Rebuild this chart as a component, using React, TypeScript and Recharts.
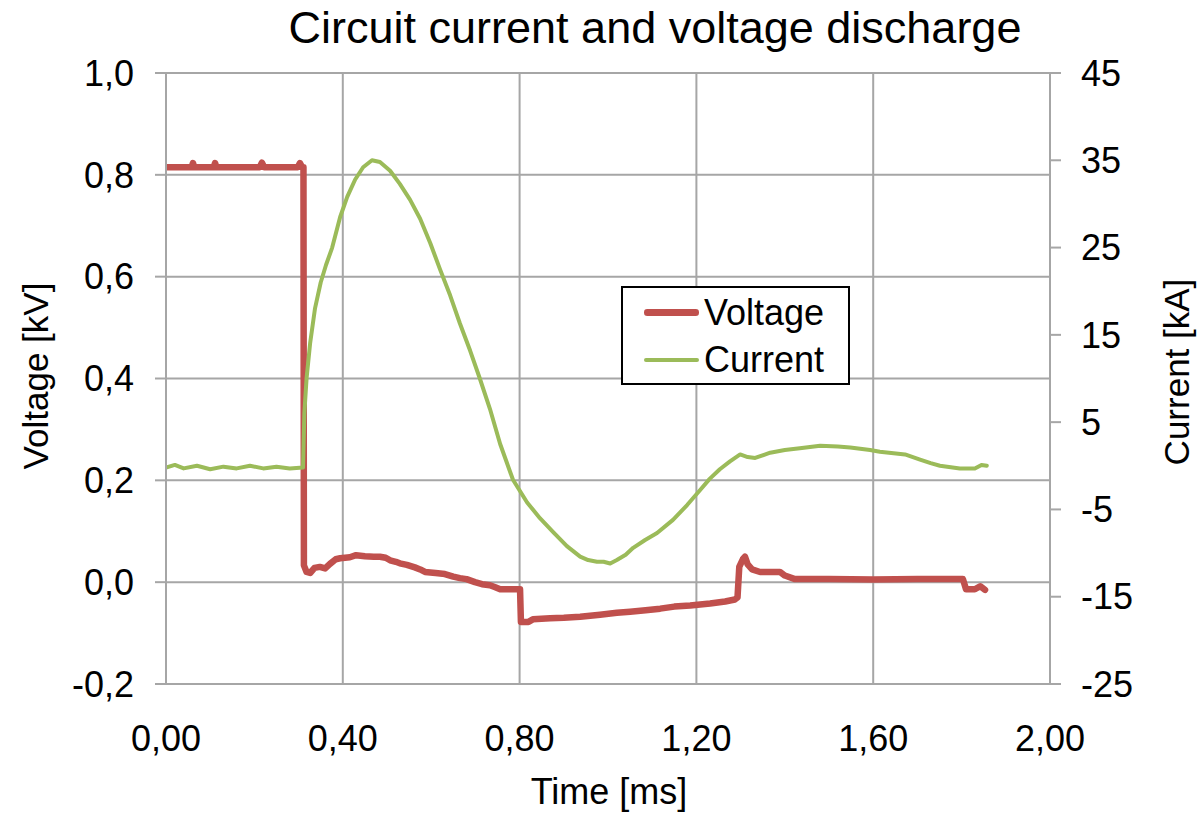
import { LineChart, Line, XAxis, YAxis, CartesianGrid, Legend, Label } from "recharts";

// voltage trace, time in ms, value in kV
const voltageTime = [
  0, 0.058, 0.061, 0.064, 0.108, 0.111, 0.114, 0.212, 0.217, 0.222, 0.298, 0.303, 0.308, 0.311,
  0.312, 0.318, 0.326, 0.336, 0.348, 0.36, 0.371, 0.384, 0.394, 0.416, 0.43, 0.45, 0.47, 0.484,
  0.497, 0.507, 0.52, 0.529, 0.545, 0.563, 0.575, 0.586, 0.61, 0.631, 0.65, 0.665, 0.68, 0.699,
  0.715, 0.733, 0.745, 0.756, 0.801, 0.803, 0.82, 0.83, 0.869, 0.9, 0.937, 0.982, 1.02, 1.05,
  1.085, 1.118, 1.15, 1.186, 1.231, 1.265, 1.287, 1.293, 1.297, 1.305, 1.31, 1.316, 1.326, 1.344,
  1.389, 1.4, 1.423, 1.5, 1.6, 1.7, 1.803, 1.81, 1.83, 1.842, 1.853,
];
const voltageKv = [
  0.815, 0.815, 0.823, 0.815, 0.815, 0.823, 0.815, 0.815, 0.824, 0.815, 0.815, 0.823, 0.815, 0.815,
  0.033, 0.02, 0.018, 0.028, 0.03, 0.027, 0.036, 0.045, 0.047, 0.049, 0.053, 0.051, 0.05, 0.05,
  0.048, 0.043, 0.04, 0.037, 0.034, 0.029, 0.025, 0.02, 0.018, 0.016, 0.011, 0.008, 0.006, 0.0,
  -0.004, -0.006, -0.01, -0.014, -0.014, -0.078, -0.078, -0.073, -0.071, -0.07, -0.068, -0.064, -0.06, -0.058,
  -0.055, -0.052, -0.048, -0.046, -0.042, -0.038, -0.034, -0.03, 0.03, 0.045, 0.05, 0.035, 0.025, 0.02,
  0.02, 0.013, 0.006, 0.006, 0.005, 0.006, 0.006, -0.014, -0.014, -0.008, -0.015,
];

// current trace, time in ms, value in kA
const currentTime = [
  0, 0.02, 0.04, 0.07, 0.1, 0.13, 0.16, 0.19, 0.22, 0.25, 0.28, 0.31, 0.313, 0.318, 0.326, 0.337,
  0.35, 0.362, 0.376, 0.394, 0.41, 0.428, 0.446, 0.466, 0.484, 0.507, 0.529, 0.552, 0.575, 0.598,
  0.62, 0.643, 0.665, 0.688, 0.71, 0.733, 0.756, 0.785, 0.817, 0.846, 0.876, 0.907, 0.937, 0.955,
  0.975, 0.99, 1.005, 1.02, 1.04, 1.057, 1.084, 1.111, 1.147, 1.179, 1.208, 1.23, 1.253, 1.276,
  1.299, 1.316, 1.333, 1.367, 1.4, 1.434, 1.48, 1.52, 1.548, 1.593, 1.615, 1.672, 1.706, 1.73,
  1.751, 1.796, 1.83, 1.845, 1.857,
];
const currentKa = [
  -0.2, 0.1, -0.3, 0, -0.4, -0.1, -0.3, 0, -0.3, -0.1, -0.3, -0.2, 6, 10, 14, 18,
  21, 23, 25, 28.5, 30.8, 32.8, 34.2, 35, 34.8, 33.8, 32.3, 30.5, 28.3, 25.5,
  22.5, 19.5, 16.3, 13.2, 10, 6.5, 2.5, -1.6, -4.2, -6, -7.6, -9.2, -10.4, -10.8,
  -11, -11, -11.2, -10.8, -10.2, -9.4, -8.5, -7.7, -6.2, -4.5, -2.8, -1.5, -0.4, 0.5,
  1.3, 1.0, 0.9, 1.5, 1.8, 2.0, 2.3, 2.2, 2.1, 1.8, 1.6, 1.3, 0.7, 0.3,
  0, -0.3, -0.3, 0.1, 0,
];

const timeTicks = [0, 0.4, 0.8, 1.2, 1.6, 2.0];
const voltageTicks = [-0.2, 0, 0.2, 0.4, 0.6, 0.8, 1.0];
const currentTicks = [-25, -15, -5, 5, 15, 25, 35, 45];

const series = [
  { name: "Voltage", color: "#c0504d", width: 6.5 },
  { name: "Current", color: "#9bbb59", width: 4 },
];

const FONT = "'Liberation Sans', Arial, sans-serif";
const GRID = "#a6a6a6";

const comma = (v: number, digits: number) => v.toFixed(digits).replace(".", ",");

function LegendBox() {
  return (
    <div
      style={{
        boxSizing: "border-box",
        width: 229,
        height: 99,
        border: "2px solid #000",
        background: "#fff",
        paddingTop: 1,
        fontFamily: FONT,
      }}
    >
      {series.map((s) => (
        <div key={s.name} style={{ display: "flex", alignItems: "center", height: 47 }}>
          <div
            style={{
              marginLeft: 21,
              width: 55,
              height: s.width,
              borderRadius: s.width / 2,
              background: s.color,
            }}
          />
          <span style={{ marginLeft: 5, fontSize: 36, color: "#000" }}>{s.name}</span>
        </div>
      ))}
    </div>
  );
}

export default function App() {
  const voltageData = voltageTime.map((t, i) => ({ t, v: voltageKv[i] }));
  const currentData = currentTime.map((t, i) => ({ t, c: currentKa[i] }));
  const tickStyle = { fontSize: 36, fill: "#000", fontFamily: FONT };

  return (
    <div
      style={{
        position: "absolute",
        left: 0,
        top: 0,
        width: 1200,
        height: 815,
        background: "#fff",
        fontFamily: FONT,
      }}
    >
      <div
        style={{
          position: "absolute",
          left: 0,
          top: 2,
          width: 1310,
          textAlign: "center",
          fontSize: 45,
          color: "#000",
          zIndex: 2,
        }}
      >
        Circuit current and voltage discharge
      </div>
      <LineChart width={1200} height={815} margin={{ top: 73, right: 0, bottom: 0, left: 0 }}>
        <CartesianGrid stroke={GRID} strokeWidth={2} yAxisId={0} />
        <XAxis
          dataKey="t"
          type="number"
          domain={[0, 2]}
          ticks={timeTicks}
          interval={0}
          allowDataOverflow
          tickFormatter={(v) => comma(v, 2)}
          height={131}
          tickLine={false}
          tickSize={0}
          tickMargin={41}
          axisLine={{ stroke: GRID, strokeWidth: 2 }}
          tick={tickStyle}
        >
          <Label
            content={() => (
              <text x={609} y={804} textAnchor="middle" fontSize={36} fontFamily={FONT} fill="#000">
                Time [ms]
              </text>
            )}
          />
        </XAxis>
        <YAxis
          yAxisId={0}
          type="number"
          domain={[-0.2, 1.0]}
          ticks={voltageTicks}
          interval={0}
          allowDataOverflow
          tickFormatter={(v) => comma(v, 1)}
          width={166}
          tickSize={11}
          tickMargin={21}
          tickLine={{ stroke: GRID, strokeWidth: 2 }}
          axisLine={{ stroke: GRID, strokeWidth: 2 }}
          tick={tickStyle}
        >
          <Label
            content={() => (
              <text
                x={48}
                y={376}
                textAnchor="middle"
                fontSize={35}
                fontFamily={FONT}
                fill="#000"
                transform="rotate(-90 48 376)"
              >
                Voltage [kV]
              </text>
            )}
          />
        </YAxis>
        <YAxis
          yAxisId="i"
          orientation="right"
          type="number"
          domain={[-25, 45]}
          ticks={currentTicks}
          interval={0}
          allowDataOverflow
          width={150}
          tickSize={11}
          tickMargin={20}
          tickLine={{ stroke: GRID, strokeWidth: 2 }}
          axisLine={{ stroke: GRID, strokeWidth: 2 }}
          tick={tickStyle}
        >
          <Label
            content={() => (
              <text
                x={1189}
                y={372}
                textAnchor="middle"
                fontSize={35}
                fontFamily={FONT}
                fill="#000"
                transform="rotate(-90 1189 372)"
              >
                Current [kA]
              </text>
            )}
          />
        </YAxis>
        <Line
          data={voltageData}
          dataKey="v"
          name="Voltage"
          yAxisId={0}
          type="linear"
          stroke={series[0].color}
          strokeWidth={series[0].width}
          strokeLinecap="round"
          strokeLinejoin="round"
          dot={false}
          activeDot={false}
          isAnimationActive={false}
        />
        <Line
          data={currentData}
          dataKey="c"
          name="Current"
          yAxisId="i"
          type="linear"
          stroke={series[1].color}
          strokeWidth={series[1].width}
          strokeLinecap="round"
          strokeLinejoin="round"
          dot={false}
          activeDot={false}
          isAnimationActive={false}
        />
        <Legend
          layout="horizontal"
          verticalAlign="middle"
          align="center"
          wrapperStyle={{ left: 621, top: 286, width: 229, height: 99 }}
          content={() => <LegendBox />}
        />
      </LineChart>
    </div>
  );
}
